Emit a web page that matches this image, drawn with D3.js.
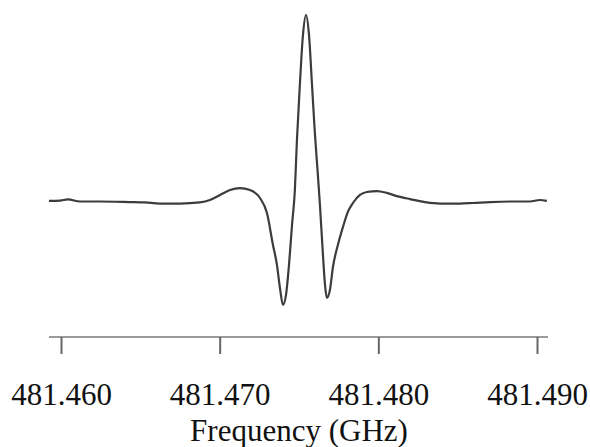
<!DOCTYPE html>
<html>
<head>
<meta charset="utf-8">
<script src="https://cdn.jsdelivr.net/npm/d3@7"></script>
<style>
  body { margin: 0; background: #fff; }
  svg { display: block; }
  .serif { font-family: 'Liberation Serif', 'Times New Roman', Tinos, 'DejaVu Serif', serif; }
</style>
</head>
<body>
<div id="chart"></div>
<script>
// Spectrum trace (frequency in GHz, intensity in arbitrary units)
const freqs = [
  481.45924, 481.45994, 481.46044, 481.46120, 481.46246, 481.46435, 481.46529,
  481.46624, 481.46750, 481.46876, 481.46939, 481.47002, 481.47065, 481.47128,
  481.47191, 481.47254, 481.47298, 481.47336, 481.47361, 481.47380, 481.47399,
  481.47418, 481.47437, 481.47456, 481.47474, 481.47487, 481.47506, 481.47525,
  481.47544, 481.47563, 481.47582, 481.47600, 481.47619, 481.47632, 481.47651,
  481.47664, 481.47676, 481.47695, 481.47714, 481.47745, 481.47777, 481.47808,
  481.47840, 481.47884, 481.47928, 481.47991, 481.48054, 481.48117, 481.48199,
  481.48294, 481.48388, 481.48514, 481.48596, 481.48703, 481.48829, 481.48955,
  481.49018, 481.49062
];
const intensity = [
  0.003, 0.005, 0.011, 0.000, 0.000, -0.003, -0.005,
  -0.011, -0.011, -0.005, 0.008, 0.035, 0.062, 0.072,
  0.062, 0.019, -0.062, -0.233, -0.340, -0.464, -0.555,
  -0.501, -0.340, -0.126, 0.062, 0.330, 0.635, 0.893,
  1.000, 0.893, 0.625, 0.367, 0.142, -0.019, -0.287,
  -0.448, -0.517, -0.474, -0.351, -0.233, -0.137, -0.056,
  -0.008, 0.035, 0.051, 0.056, 0.046, 0.029, 0.013,
  -0.003, -0.011, -0.011, -0.008, -0.003, 0.000, 0.000,
  0.008, 0.003
];
const tickValues = [481.460, 481.470, 481.480, 481.490];
const axisExtent = [481.45924, 481.49069];
const xTitle = 'Frequency (GHz)';

const width = 590, height = 447;
const serifFont = "'Liberation Serif', 'Times New Roman', Tinos, 'DejaVu Serif', serif";

const svg = d3.select('#chart')
  .append('svg')
  .attr('width', width)
  .attr('height', height);

const x = d3.scaleLinear()
  .domain([481.460, 481.490])
  .range([61, 537]);

// value 0 sits at the flat baseline, 1 at the top of the central peak
const y = d3.scaleLinear()
  .domain([0, 1])
  .range([201.5, 15]);

const axisY = 337;

// axis line (runs a little past the end ticks)
svg.append('line')
  .attr('x1', x(axisExtent[0]))
  .attr('x2', x(axisExtent[1]))
  .attr('y1', axisY)
  .attr('y2', axisY)
  .attr('stroke', '#9a9a9a')
  .attr('stroke-width', 2);

const axis = d3.axisBottom(x)
  .tickValues(tickValues)
  .tickFormat(d3.format('.3f'))
  .tickSize(17)
  .tickSizeOuter(0);

const gx = svg.append('g')
  .attr('transform', `translate(0,${axisY})`)
  .call(axis)
  .attr('font-family', serifFont)
  .attr('font-size', 31);

gx.select('.domain').remove();
gx.selectAll('.tick line')
  .attr('stroke', '#666')
  .attr('stroke-width', 2);
gx.selectAll('.tick text')
  .attr('class', 'serif')
  .attr('y', 68)
  .attr('dy', 0)
  .attr('fill', '#111')
  .attr('font-family', serifFont)
  .style('font-size', '31px');

svg.append('text')
  .attr('class', 'serif')
  .attr('x', (x.range()[0] + x.range()[1]) / 2)
  .attr('y', 441)
  .attr('text-anchor', 'middle')
  .attr('fill', '#111')
  .attr('font-family', serifFont)
  .style('font-size', '31px')
  .text(xTitle);

// spectrum trace
const line = d3.line()
  .x((d, i) => x(freqs[i]))
  .y(d => y(d))
  .curve(d3.curveMonotoneX);

svg.append('path')
  .datum(intensity)
  .attr('fill', 'none')
  .attr('stroke', '#3c3c3c')
  .attr('stroke-width', 2.2)
  .attr('stroke-linejoin', 'round')
  .attr('d', line);
</script>
</body>
</html>
